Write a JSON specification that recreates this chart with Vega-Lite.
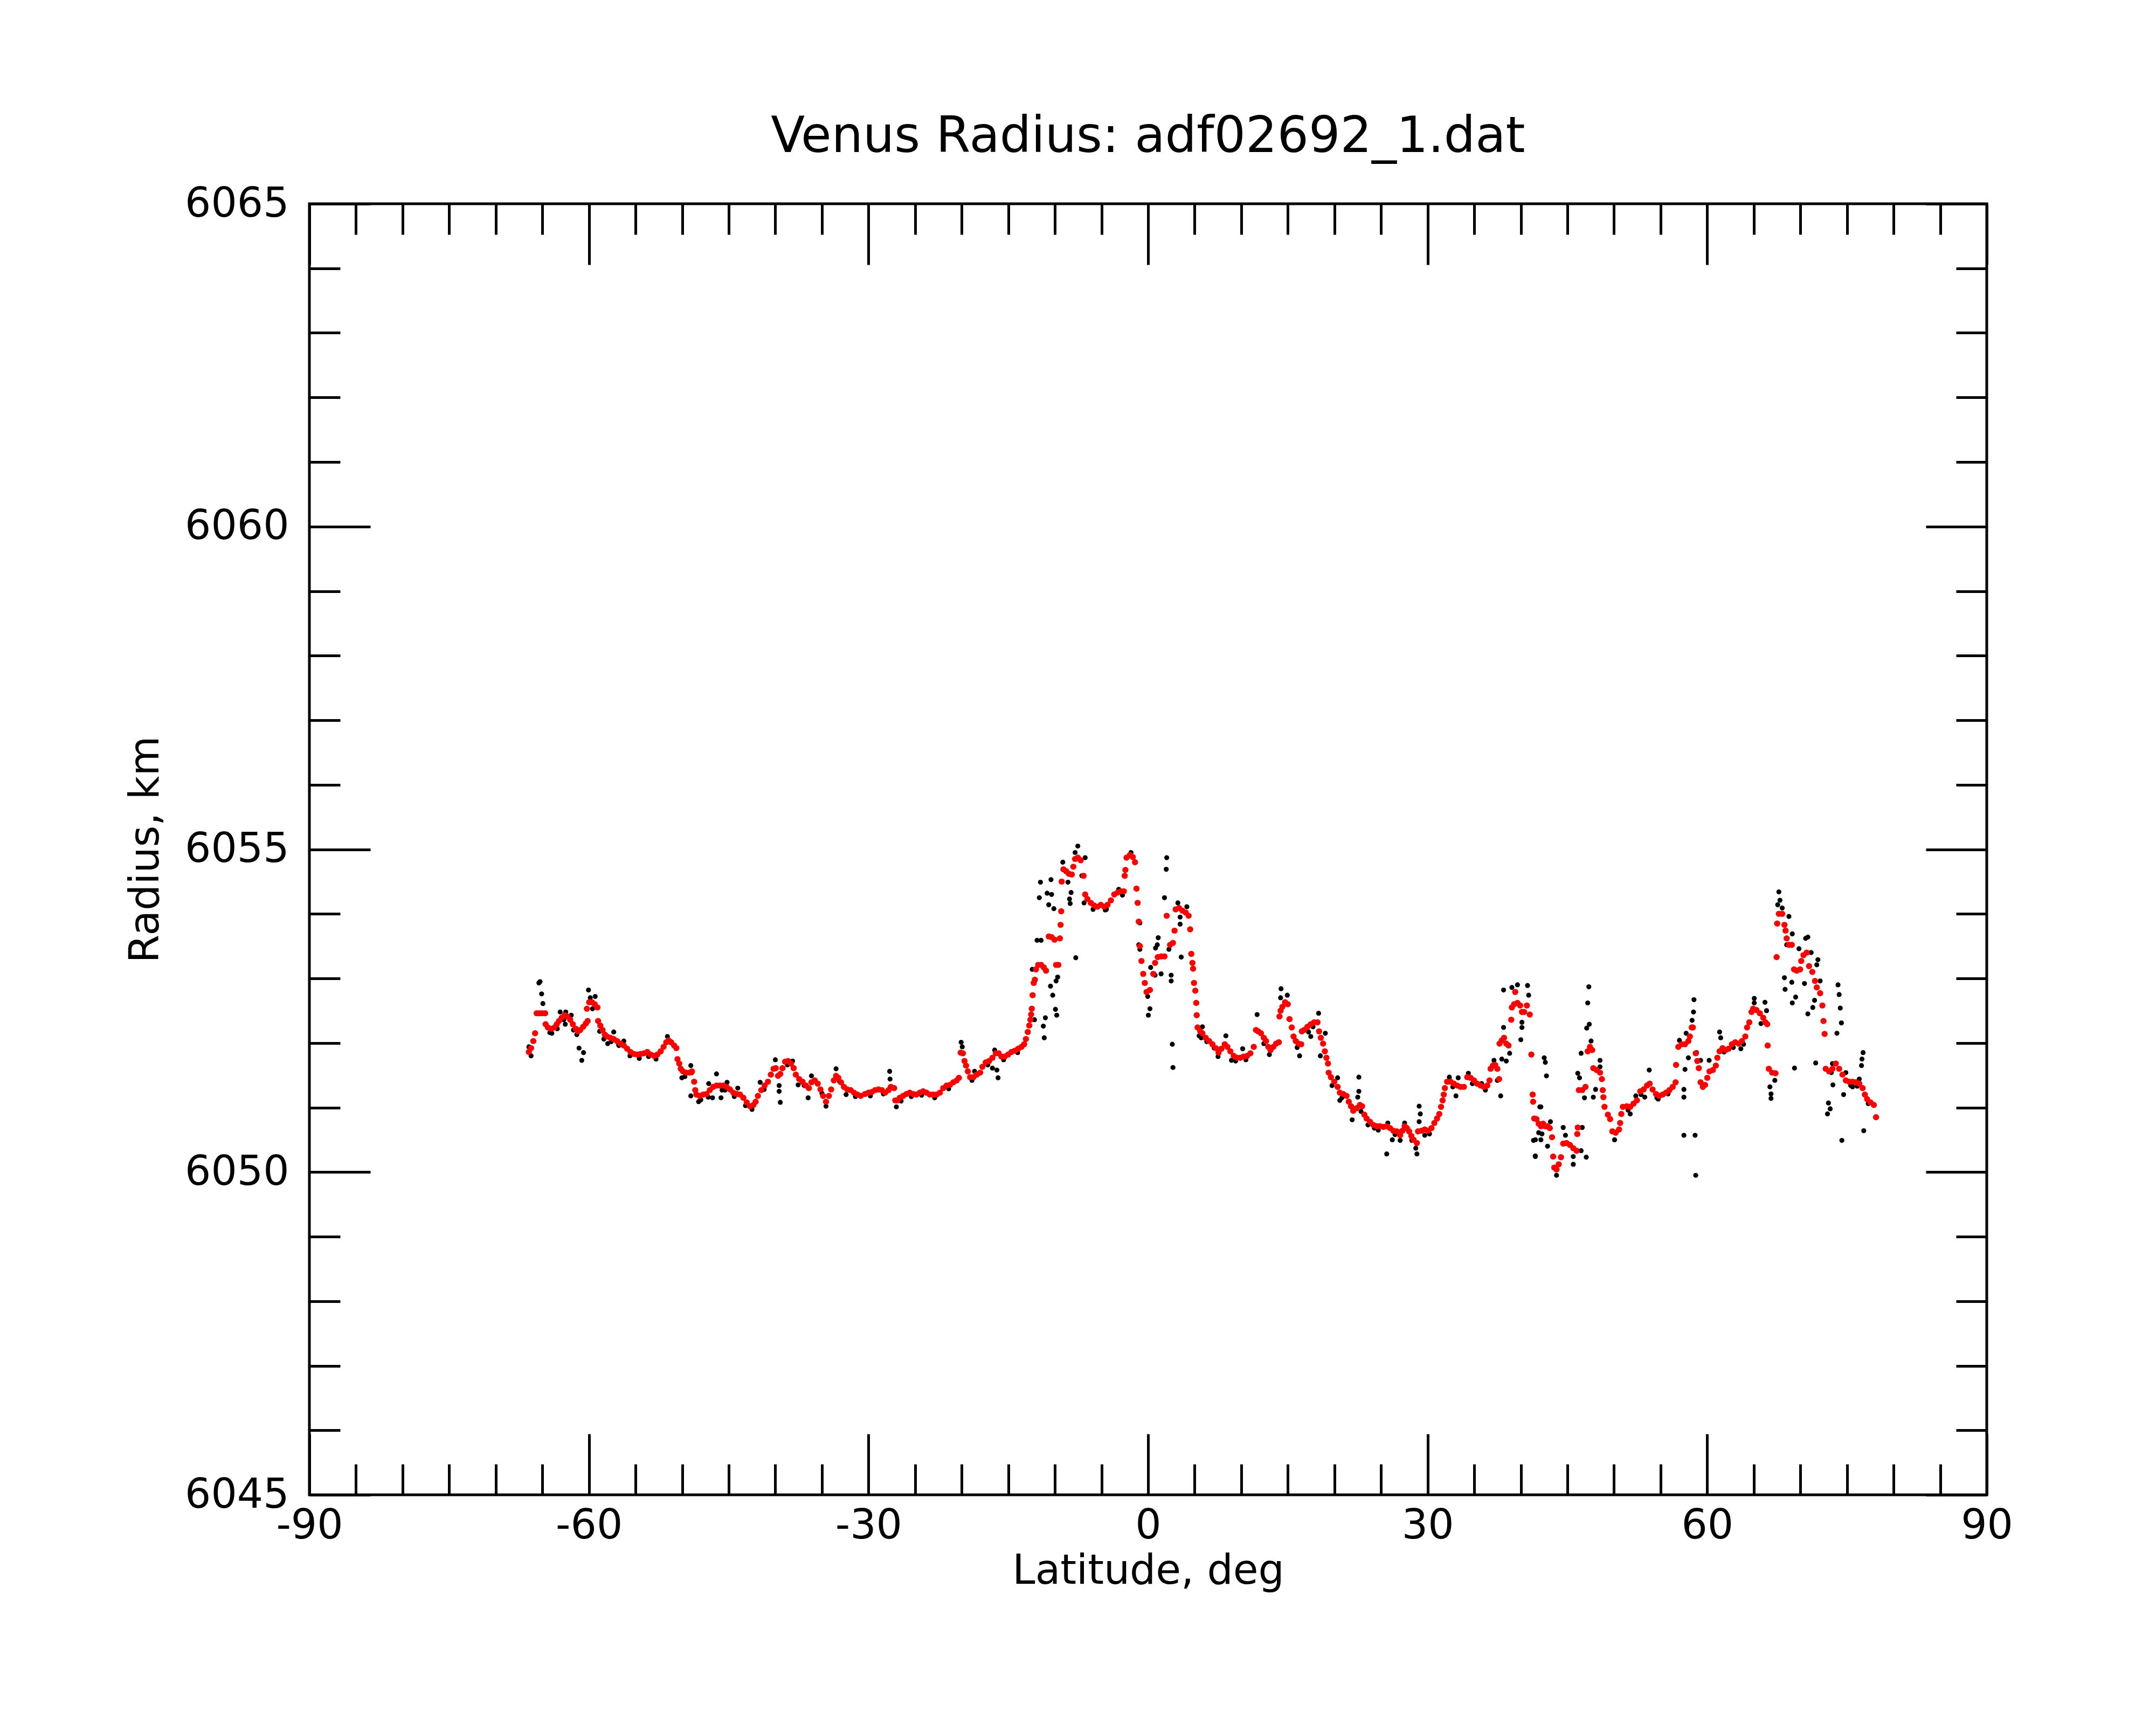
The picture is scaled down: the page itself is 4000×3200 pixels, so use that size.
{
  "$schema": "https://vega.github.io/schema/vega-lite/v6.json",
  "title": {
    "text": "Venus Radius: adf02692_1.dat",
    "font": "DejaVu Sans",
    "fontSize": 92,
    "fontWeight": "normal",
    "color": "black",
    "anchor": "middle",
    "baseline": "alphabetic",
    "offset": -34
  },
  "width": 3112,
  "height": 2395,
  "autosize": {"type": "none"},
  "padding": {"left": 574, "top": 378, "right": 314, "bottom": 427},
  "background": "white",
  "config": {
    "view": {"stroke": "black", "strokeWidth": 5},
    "axis": {
      "domain": false,
      "grid": false,
      "tickColor": "black",
      "tickWidth": 5,
      "labelFont": "DejaVu Sans",
      "labelFontSize": 76,
      "labelColor": "black",
      "labelLimit": 0,
      "titleFont": "DejaVu Sans",
      "titleFontSize": 76,
      "titleFontWeight": "normal",
      "titleColor": "black",
      "labelOverlap": false,
      "labelBound": false,
      "labelFlush": false
    }
  },
  "datasets": {
    "raw": [
      {"lat": -66.45, "radius": 6051.94}, {"lat": -66.21, "radius": 6051.80}, {"lat": -65.37, "radius": 6052.93},
      {"lat": -65.25, "radius": 6052.95}, {"lat": -65.08, "radius": 6052.76}, {"lat": -64.94, "radius": 6052.61},
      {"lat": -63.98, "radius": 6052.15}, {"lat": -63.09, "radius": 6052.48}, {"lat": -62.49, "radius": 6052.48},
      {"lat": -62.54, "radius": 6052.29}, {"lat": -61.90, "radius": 6052.43}, {"lat": -61.66, "radius": 6052.20},
      {"lat": -61.30, "radius": 6052.13}, {"lat": -61.06, "radius": 6051.92}, {"lat": -60.58, "radius": 6051.85},
      {"lat": -60.77, "radius": 6051.73}, {"lat": -60.05, "radius": 6052.82}, {"lat": -59.86, "radius": 6052.70},
      {"lat": -59.33, "radius": 6052.72}, {"lat": -59.62, "radius": 6052.53}, {"lat": -58.85, "radius": 6052.18},
      {"lat": -57.99, "radius": 6051.99}, {"lat": -57.34, "radius": 6052.17}, {"lat": -56.79, "radius": 6051.96},
      {"lat": -56.26, "radius": 6052.03}, {"lat": -51.58, "radius": 6052.10}, {"lat": -50.03, "radius": 6051.46},
      {"lat": -49.07, "radius": 6051.65}, {"lat": -48.95, "radius": 6051.54}, {"lat": -49.07, "radius": 6051.18},
      {"lat": -48.23, "radius": 6051.09}, {"lat": -47.15, "radius": 6051.37}, {"lat": -46.74, "radius": 6051.15},
      {"lat": -46.31, "radius": 6051.52}, {"lat": -45.83, "radius": 6051.15}, {"lat": -45.71, "radius": 6051.27},
      {"lat": -45.18, "radius": 6051.39}, {"lat": -44.03, "radius": 6051.30}, {"lat": -41.63, "radius": 6051.39},
      {"lat": -40.00, "radius": 6051.74}, {"lat": -39.59, "radius": 6051.34}, {"lat": -39.59, "radius": 6051.25},
      {"lat": -39.47, "radius": 6051.08}, {"lat": -38.15, "radius": 6051.72}, {"lat": -37.55, "radius": 6051.35},
      {"lat": -36.48, "radius": 6051.15}, {"lat": -36.12, "radius": 6051.49}, {"lat": -34.56, "radius": 6051.02},
      {"lat": -33.48, "radius": 6051.60}, {"lat": -32.40, "radius": 6051.20},
      {"lat": -27.73, "radius": 6051.56}, {"lat": -27.69, "radius": 6051.44}, {"lat": -27.01, "radius": 6051.01},
      {"lat": -20.06, "radius": 6052.01}, {"lat": -19.94, "radius": 6051.94}, {"lat": -18.62, "radius": 6051.56},
      {"lat": -16.70, "radius": 6051.61}, {"lat": -16.22, "radius": 6051.58}, {"lat": -16.10, "radius": 6051.46},
      {"lat": -16.46, "radius": 6051.89}, {"lat": -12.43, "radius": 6053.14}, {"lat": -12.19, "radius": 6052.36},
      {"lat": -11.55, "radius": 6054.49}, {"lat": -11.67, "radius": 6054.25}, {"lat": -10.42, "radius": 6054.53},
      {"lat": -10.83, "radius": 6054.32}, {"lat": -10.35, "radius": 6054.30}, {"lat": -10.66, "radius": 6054.14},
      {"lat": -10.11, "radius": 6054.08}, {"lat": -11.91, "radius": 6053.59}, {"lat": -11.48, "radius": 6053.59},
      {"lat": -9.70, "radius": 6053.02}, {"lat": -9.87, "radius": 6052.96}, {"lat": -10.47, "radius": 6052.88},
      {"lat": -10.23, "radius": 6052.74}, {"lat": -9.94, "radius": 6052.52}, {"lat": -9.80, "radius": 6052.43},
      {"lat": -11.02, "radius": 6052.39}, {"lat": -11.24, "radius": 6052.26}, {"lat": -11.14, "radius": 6052.08},
      {"lat": -9.15, "radius": 6054.80}, {"lat": -8.60, "radius": 6054.49}, {"lat": -8.26, "radius": 6054.33},
      {"lat": -8.43, "radius": 6054.23}, {"lat": -8.36, "radius": 6054.16}, {"lat": -7.76, "radius": 6053.32},
      {"lat": -7.54, "radius": 6055.05}, {"lat": -7.83, "radius": 6054.95}, {"lat": -6.75, "radius": 6054.87},
      {"lat": -7.11, "radius": 6054.59}, {"lat": -6.87, "radius": 6054.17}, {"lat": -4.47, "radius": 6054.07},
      {"lat": -3.15, "radius": 6054.38}, {"lat": -2.75, "radius": 6054.29}, {"lat": -1.83, "radius": 6054.95},
      {"lat": -0.88, "radius": 6053.86}, {"lat": -1.00, "radius": 6053.52}, {"lat": -0.88, "radius": 6053.45},
      {"lat": -0.04, "radius": 6052.72}, {"lat": 0.20, "radius": 6052.53}, {"lat": 0.03, "radius": 6052.43},
      {"lat": 0.28, "radius": 6053.17}, {"lat": 0.75, "radius": 6053.05}, {"lat": 1.40, "radius": 6053.07},
      {"lat": 2.48, "radius": 6053.05}, {"lat": 2.48, "radius": 6052.96}, {"lat": 2.00, "radius": 6054.87},
      {"lat": 1.95, "radius": 6054.69}, {"lat": 1.76, "radius": 6054.25}, {"lat": 1.09, "radius": 6053.63},
      {"lat": 0.99, "radius": 6053.52}, {"lat": 0.80, "radius": 6053.47}, {"lat": 2.24, "radius": 6053.45},
      {"lat": 3.44, "radius": 6053.84}, {"lat": 3.44, "radius": 6053.95}, {"lat": 3.56, "radius": 6053.33},
      {"lat": 2.60, "radius": 6051.98}, {"lat": 2.67, "radius": 6051.62}, {"lat": 3.20, "radius": 6054.17},
      {"lat": 4.16, "radius": 6054.11}, {"lat": 5.48, "radius": 6052.11},
      {"lat": 5.83, "radius": 6052.25}, {"lat": 5.71, "radius": 6052.08}, {"lat": 7.51, "radius": 6051.79},
      {"lat": 8.35, "radius": 6052.11}, {"lat": 8.95, "radius": 6051.73}, {"lat": 10.15, "radius": 6051.91},
      {"lat": 11.70, "radius": 6052.44}, {"lat": 12.42, "radius": 6051.99}, {"lat": 13.02, "radius": 6051.82},
      {"lat": 14.27, "radius": 6052.84}, {"lat": 14.22, "radius": 6052.70}, {"lat": 14.94, "radius": 6052.74},
      {"lat": 16.26, "radius": 6051.80}, {"lat": 17.22, "radius": 6052.17}, {"lat": 17.46, "radius": 6052.10},
      {"lat": 18.30, "radius": 6052.46}, {"lat": 19.02, "radius": 6052.15}, {"lat": 18.49, "radius": 6051.80},
      {"lat": 19.74, "radius": 6051.34}, {"lat": 20.34, "radius": 6051.46}, {"lat": 20.58, "radius": 6051.11},
      {"lat": 21.90, "radius": 6050.81}, {"lat": 22.62, "radius": 6051.47}, {"lat": 22.62, "radius": 6051.25},
      {"lat": 22.50, "radius": 6051.16}, {"lat": 22.85, "radius": 6050.94}, {"lat": 24.29, "radius": 6050.68},
      {"lat": 25.73, "radius": 6050.76}, {"lat": 25.61, "radius": 6050.28}, {"lat": 26.21, "radius": 6050.50},
      {"lat": 27.05, "radius": 6050.49}, {"lat": 27.53, "radius": 6050.76}, {"lat": 28.85, "radius": 6050.28},
      {"lat": 28.73, "radius": 6050.37}, {"lat": 29.09, "radius": 6051.02}, {"lat": 29.21, "radius": 6050.90},
      {"lat": 29.09, "radius": 6050.78}, {"lat": 29.69, "radius": 6050.57}, {"lat": 32.33, "radius": 6051.47},
      {"lat": 33.04, "radius": 6051.18}, {"lat": 33.28, "radius": 6051.46}, {"lat": 34.37, "radius": 6051.53},
      {"lat": 35.80, "radius": 6051.37}, {"lat": 37.12, "radius": 6051.73}, {"lat": 37.84, "radius": 6051.18},
      {"lat": 37.48, "radius": 6051.42}, {"lat": 38.15, "radius": 6052.24}, {"lat": 37.96, "radius": 6051.75},
      {"lat": 38.44, "radius": 6051.72}, {"lat": 38.80, "radius": 6051.84}, {"lat": 38.15, "radius": 6052.82},
      {"lat": 39.04, "radius": 6052.86}, {"lat": 39.64, "radius": 6052.90}, {"lat": 40.72, "radius": 6052.89},
      {"lat": 40.84, "radius": 6052.74}, {"lat": 40.12, "radius": 6052.32}, {"lat": 40.00, "radius": 6052.05},
      {"lat": 40.12, "radius": 6052.24}, {"lat": 41.56, "radius": 6050.50}, {"lat": 41.56, "radius": 6050.24},
      {"lat": 41.92, "radius": 6050.61}, {"lat": 42.04, "radius": 6051.01},
      {"lat": 41.36, "radius": 6050.49}, {"lat": 41.55, "radius": 6050.25}, {"lat": 42.15, "radius": 6051.01},
      {"lat": 42.51, "radius": 6051.77}, {"lat": 42.63, "radius": 6051.70}, {"lat": 42.75, "radius": 6051.49},
      {"lat": 43.18, "radius": 6050.78}, {"lat": 42.87, "radius": 6050.40}, {"lat": 42.15, "radius": 6050.50},
      {"lat": 42.27, "radius": 6050.59}, {"lat": 43.83, "radius": 6049.95}, {"lat": 44.55, "radius": 6050.69},
      {"lat": 44.79, "radius": 6050.57}, {"lat": 45.63, "radius": 6050.24}, {"lat": 45.63, "radius": 6050.12},
      {"lat": 46.47, "radius": 6050.33}, {"lat": 46.59, "radius": 6050.69}, {"lat": 47.02, "radius": 6050.23},
      {"lat": 47.30, "radius": 6052.87}, {"lat": 47.18, "radius": 6052.62}, {"lat": 47.35, "radius": 6052.29},
      {"lat": 47.07, "radius": 6052.23}, {"lat": 47.54, "radius": 6052.03}, {"lat": 46.47, "radius": 6051.84},
      {"lat": 46.11, "radius": 6051.53}, {"lat": 46.30, "radius": 6051.46}, {"lat": 46.83, "radius": 6051.15},
      {"lat": 47.78, "radius": 6051.16}, {"lat": 48.02, "radius": 6051.28}, {"lat": 48.50, "radius": 6051.73},
      {"lat": 48.50, "radius": 6051.63}, {"lat": 50.06, "radius": 6050.50}, {"lat": 51.74, "radius": 6050.90},
      {"lat": 52.34, "radius": 6051.18}, {"lat": 53.78, "radius": 6051.58}, {"lat": 53.30, "radius": 6051.16},
      {"lat": 54.74, "radius": 6051.13}, {"lat": 57.50, "radius": 6051.28}, {"lat": 57.50, "radius": 6051.16},
      {"lat": 57.74, "radius": 6052.15}, {"lat": 57.02, "radius": 6052.04}, {"lat": 57.62, "radius": 6051.59},
      {"lat": 57.98, "radius": 6051.77}, {"lat": 58.58, "radius": 6052.67}, {"lat": 58.53, "radius": 6052.48},
      {"lat": 58.38, "radius": 6052.35}, {"lat": 58.86, "radius": 6051.85}, {"lat": 59.29, "radius": 6051.73},
      {"lat": 57.50, "radius": 6050.57}, {"lat": 58.70, "radius": 6050.57}, {"lat": 58.77, "radius": 6049.95},
      {"lat": 60.21, "radius": 6051.73}, {"lat": 61.33, "radius": 6052.17}, {"lat": 61.45, "radius": 6052.08},
      {"lat": 63.61, "radius": 6051.91}, {"lat": 65.05, "radius": 6052.69}, {"lat": 65.05, "radius": 6052.62},
      {"lat": 66.20, "radius": 6052.63}, {"lat": 66.37, "radius": 6052.50}, {"lat": 65.77, "radius": 6052.30},
      {"lat": 66.73, "radius": 6051.32}, {"lat": 66.85, "radius": 6051.21}, {"lat": 66.85, "radius": 6051.14},
      {"lat": 67.26, "radius": 6051.42}, {"lat": 67.69, "radius": 6054.34}, {"lat": 67.81, "radius": 6054.21},
      {"lat": 67.57, "radius": 6054.14}, {"lat": 68.05, "radius": 6054.09}, {"lat": 68.77, "radius": 6053.96},
      {"lat": 67.45, "radius": 6053.85}, {"lat": 69.13, "radius": 6053.69}, {"lat": 68.53, "radius": 6053.52},
      {"lat": 70.80, "radius": 6053.64}, {"lat": 70.56, "radius": 6053.62}, {"lat": 69.85, "radius": 6053.46},
      {"lat": 71.16, "radius": 6053.40}, {"lat": 71.88, "radius": 6053.29}, {"lat": 71.76, "radius": 6053.21},
      {"lat": 68.29, "radius": 6053.01}, {"lat": 69.08, "radius": 6052.94}, {"lat": 68.36, "radius": 6052.83},
      {"lat": 70.44, "radius": 6052.92}, {"lat": 69.49, "radius": 6052.71}, {"lat": 69.13, "radius": 6052.62},
      {"lat": 72.12, "radius": 6052.96}, {"lat": 71.52, "radius": 6052.66}, {"lat": 71.33, "radius": 6052.55},
      {"lat": 70.80, "radius": 6052.45}, {"lat": 74.04, "radius": 6052.90}, {"lat": 74.16, "radius": 6052.75},
      {"lat": 74.28, "radius": 6052.54}, {"lat": 74.40, "radius": 6052.31}, {"lat": 73.92, "radius": 6052.15},
      {"lat": 69.37, "radius": 6051.61}, {"lat": 71.64, "radius": 6051.69}, {"lat": 73.44, "radius": 6051.68},
      {"lat": 73.32, "radius": 6051.54}, {"lat": 73.49, "radius": 6051.35}, {"lat": 73.01, "radius": 6051.07},
      {"lat": 73.20, "radius": 6050.98}, {"lat": 72.91, "radius": 6050.90}, {"lat": 74.45, "radius": 6050.49},
      {"lat": 74.64, "radius": 6051.20}, {"lat": 74.88, "radius": 6051.54}, {"lat": 75.60, "radius": 6051.32},
      {"lat": 76.32, "radius": 6051.44}, {"lat": 76.56, "radius": 6051.65}, {"lat": 76.61, "radius": 6051.75},
      {"lat": 76.73, "radius": 6051.85}, {"lat": 76.80, "radius": 6050.64}, {"lat": 77.28, "radius": 6051.06},
      {"lat": -64.20, "radius": 6052.16}, {"lat": -63.40, "radius": 6052.22}, {"lat": -62.70, "radius": 6052.36},
      {"lat": -58.40, "radius": 6052.06}, {"lat": -57.60, "radius": 6052.02}, {"lat": -56.80, "radius": 6051.97},
      {"lat": -55.60, "radius": 6051.80}, {"lat": -54.60, "radius": 6051.76}, {"lat": -53.60, "radius": 6051.79},
      {"lat": -52.80, "radius": 6051.75}, {"lat": -49.70, "radius": 6051.48}, {"lat": -48.00, "radius": 6051.12},
      {"lat": -47.20, "radius": 6051.16}, {"lat": -45.40, "radius": 6051.27}, {"lat": -44.40, "radius": 6051.17},
      {"lat": -43.20, "radius": 6051.03}, {"lat": -42.50, "radius": 6050.97}, {"lat": -41.20, "radius": 6051.28},
      {"lat": -38.70, "radius": 6051.66}, {"lat": -36.90, "radius": 6051.34}, {"lat": -35.00, "radius": 6051.22},
      {"lat": -33.10, "radius": 6051.40}, {"lat": -31.40, "radius": 6051.17}, {"lat": -29.80, "radius": 6051.18},
      {"lat": -28.40, "radius": 6051.21}, {"lat": -26.50, "radius": 6051.10}, {"lat": -25.40, "radius": 6051.17},
      {"lat": -24.30, "radius": 6051.19}, {"lat": -22.90, "radius": 6051.15}, {"lat": -21.40, "radius": 6051.29},
      {"lat": -18.90, "radius": 6051.42}, {"lat": -17.20, "radius": 6051.66}, {"lat": -15.50, "radius": 6051.74},
      {"lat": -14.00, "radius": 6051.85}, {"lat": -5.90, "radius": 6054.07}, {"lat": -4.60, "radius": 6054.06},
      {"lat": 6.30, "radius": 6052.02}, {"lat": 7.10, "radius": 6051.92}, {"lat": 9.40, "radius": 6051.72},
      {"lat": 10.50, "radius": 6051.74}, {"lat": 16.00, "radius": 6051.93}, {"lat": 17.70, "radius": 6052.25},
      {"lat": 20.80, "radius": 6051.15}, {"lat": 23.60, "radius": 6050.73}, {"lat": 24.70, "radius": 6050.65},
      {"lat": 26.50, "radius": 6050.58}, {"lat": 28.30, "radius": 6050.49}, {"lat": 30.20, "radius": 6050.59},
      {"lat": 32.70, "radius": 6051.32}, {"lat": 34.80, "radius": 6051.37}, {"lat": 36.20, "radius": 6051.27},
      {"lat": 51.50, "radius": 6050.96}, {"lat": 52.90, "radius": 6051.20}, {"lat": 54.60, "radius": 6051.15},
      {"lat": 55.80, "radius": 6051.21}, {"lat": 61.80, "radius": 6051.86}, {"lat": 62.80, "radius": 6051.93},
      {"lat": 63.90, "radius": 6051.98}, {"lat": 75.40, "radius": 6051.34}, {"lat": 76.10, "radius": 6051.33}
    ],
    "smooth": [
      {"lat": -66.45, "radius": 6051.86}, {"lat": -66.21, "radius": 6051.92}, {"lat": -65.97, "radius": 6052.03},
      {"lat": -65.78, "radius": 6052.15}, {"lat": -65.61, "radius": 6052.46}, {"lat": -65.32, "radius": 6052.46},
      {"lat": -65.01, "radius": 6052.46}, {"lat": -64.70, "radius": 6052.46}, {"lat": -64.65, "radius": 6052.29},
      {"lat": -64.41, "radius": 6052.24}, {"lat": -64.05, "radius": 6052.22}, {"lat": -63.69, "radius": 6052.24},
      {"lat": -63.45, "radius": 6052.29}, {"lat": -63.21, "radius": 6052.34}, {"lat": -62.93, "radius": 6052.39},
      {"lat": -62.61, "radius": 6052.43}, {"lat": -62.30, "radius": 6052.41}, {"lat": -62.01, "radius": 6052.36},
      {"lat": -61.73, "radius": 6052.29}, {"lat": -61.42, "radius": 6052.22}, {"lat": -61.18, "radius": 6052.18},
      {"lat": -60.94, "radius": 6052.20}, {"lat": -60.62, "radius": 6052.25}, {"lat": -60.34, "radius": 6052.30},
      {"lat": -60.14, "radius": 6052.34}, {"lat": -60.22, "radius": 6052.53}, {"lat": -59.98, "radius": 6052.63},
      {"lat": -59.67, "radius": 6052.63}, {"lat": -59.38, "radius": 6052.60}, {"lat": -59.09, "radius": 6052.55},
      {"lat": -59.02, "radius": 6052.34}, {"lat": -58.78, "radius": 6052.27}, {"lat": -58.54, "radius": 6052.20},
      {"lat": -58.30, "radius": 6052.13}, {"lat": -58.06, "radius": 6052.10}, {"lat": -57.70, "radius": 6052.08},
      {"lat": -57.34, "radius": 6052.06}, {"lat": -56.98, "radius": 6052.03}, {"lat": -56.62, "radius": 6051.99},
      {"lat": -56.26, "radius": 6051.96}, {"lat": -55.90, "radius": 6051.91}, {"lat": -55.54, "radius": 6051.86},
      {"lat": -55.18, "radius": 6051.83}, {"lat": -54.82, "radius": 6051.82}, {"lat": -54.46, "radius": 6051.83},
      {"lat": -54.10, "radius": 6051.84}, {"lat": -53.74, "radius": 6051.86}, {"lat": -53.38, "radius": 6051.82},
      {"lat": -53.02, "radius": 6051.80}, {"lat": -52.66, "radius": 6051.82}, {"lat": -52.30, "radius": 6051.87},
      {"lat": -51.99, "radius": 6051.94}, {"lat": -51.70, "radius": 6052.01}, {"lat": -51.46, "radius": 6052.04},
      {"lat": -51.18, "radius": 6052.01}, {"lat": -50.86, "radius": 6051.96}, {"lat": -50.62, "radius": 6051.92},
      {"lat": -50.50, "radius": 6051.75}, {"lat": -50.31, "radius": 6051.68}, {"lat": -50.15, "radius": 6051.60},
      {"lat": -49.91, "radius": 6051.56}, {"lat": -49.55, "radius": 6051.54}, {"lat": -49.19, "radius": 6051.54},
      {"lat": -48.95, "radius": 6051.56}, {"lat": -48.71, "radius": 6051.40}, {"lat": -48.59, "radius": 6051.27},
      {"lat": -48.47, "radius": 6051.20}, {"lat": -48.11, "radius": 6051.18}, {"lat": -47.75, "radius": 6051.20},
      {"lat": -47.39, "radius": 6051.21}, {"lat": -47.03, "radius": 6051.27}, {"lat": -46.67, "radius": 6051.32},
      {"lat": -46.31, "radius": 6051.34}, {"lat": -45.95, "radius": 6051.34}, {"lat": -45.59, "radius": 6051.34},
      {"lat": -45.23, "radius": 6051.32}, {"lat": -44.87, "radius": 6051.28}, {"lat": -44.51, "radius": 6051.23},
      {"lat": -44.15, "radius": 6051.21}, {"lat": -43.79, "radius": 6051.20}, {"lat": -43.43, "radius": 6051.15},
      {"lat": -43.07, "radius": 6051.08}, {"lat": -42.71, "radius": 6051.02}, {"lat": -42.35, "radius": 6051.04},
      {"lat": -42.11, "radius": 6051.09}, {"lat": -41.87, "radius": 6051.18}, {"lat": -41.51, "radius": 6051.27},
      {"lat": -41.15, "radius": 6051.34}, {"lat": -40.79, "radius": 6051.40}, {"lat": -40.48, "radius": 6051.51},
      {"lat": -40.19, "radius": 6051.60}, {"lat": -39.95, "radius": 6051.61}, {"lat": -39.71, "radius": 6051.49},
      {"lat": -39.47, "radius": 6051.52}, {"lat": -39.23, "radius": 6051.61}, {"lat": -38.95, "radius": 6051.71},
      {"lat": -38.63, "radius": 6051.72}, {"lat": -38.32, "radius": 6051.68}, {"lat": -38.03, "radius": 6051.61},
      {"lat": -37.80, "radius": 6051.51}, {"lat": -37.44, "radius": 6051.44}, {"lat": -37.08, "radius": 6051.40},
      {"lat": -36.72, "radius": 6051.34}, {"lat": -36.40, "radius": 6051.30}, {"lat": -36.12, "radius": 6051.39},
      {"lat": -35.76, "radius": 6051.42}, {"lat": -35.45, "radius": 6051.37}, {"lat": -35.16, "radius": 6051.28},
      {"lat": -34.87, "radius": 6051.18}, {"lat": -34.56, "radius": 6051.09}, {"lat": -34.25, "radius": 6051.18},
      {"lat": -34.01, "radius": 6051.28}, {"lat": -33.72, "radius": 6051.42}, {"lat": -33.48, "radius": 6051.49},
      {"lat": -33.24, "radius": 6051.46}, {"lat": -32.95, "radius": 6051.39}, {"lat": -32.64, "radius": 6051.32},
      {"lat": -32.28, "radius": 6051.28}, {"lat": -31.92, "radius": 6051.27}, {"lat": -31.56, "radius": 6051.23},
      {"lat": -31.20, "radius": 6051.20}, {"lat": -30.84, "radius": 6051.18}, {"lat": -30.37, "radius": 6051.21},
      {"lat": -30.01, "radius": 6051.23}, {"lat": -29.65, "radius": 6051.24}, {"lat": -29.29, "radius": 6051.27},
      {"lat": -28.93, "radius": 6051.28}, {"lat": -28.57, "radius": 6051.27}, {"lat": -28.21, "radius": 6051.23},
      {"lat": -27.85, "radius": 6051.27}, {"lat": -27.61, "radius": 6051.32}, {"lat": -27.25, "radius": 6051.30},
      {"lat": -27.13, "radius": 6051.11}, {"lat": -26.89, "radius": 6051.11}, {"lat": -26.65, "radius": 6051.15},
      {"lat": -26.29, "radius": 6051.18}, {"lat": -25.93, "radius": 6051.21}, {"lat": -25.58, "radius": 6051.23},
      {"lat": -25.22, "radius": 6051.21}, {"lat": -24.86, "radius": 6051.20}, {"lat": -24.50, "radius": 6051.23},
      {"lat": -24.14, "radius": 6051.25}, {"lat": -23.78, "radius": 6051.23}, {"lat": -23.42, "radius": 6051.20},
      {"lat": -23.06, "radius": 6051.20}, {"lat": -22.70, "radius": 6051.20}, {"lat": -22.34, "radius": 6051.23},
      {"lat": -21.98, "radius": 6051.30}, {"lat": -21.62, "radius": 6051.34}, {"lat": -21.26, "radius": 6051.35},
      {"lat": -20.90, "radius": 6051.39}, {"lat": -20.54, "radius": 6051.42}, {"lat": -20.30, "radius": 6051.46},
      {"lat": -20.11, "radius": 6051.85}, {"lat": -19.87, "radius": 6051.84}, {"lat": -19.70, "radius": 6051.72},
      {"lat": -19.53, "radius": 6051.65}, {"lat": -19.34, "radius": 6051.56}, {"lat": -19.10, "radius": 6051.47},
      {"lat": -18.74, "radius": 6051.47}, {"lat": -18.38, "radius": 6051.51}, {"lat": -18.02, "radius": 6051.54},
      {"lat": -17.78, "radius": 6051.63}, {"lat": -17.42, "radius": 6051.70}, {"lat": -17.06, "radius": 6051.72},
      {"lat": -16.70, "radius": 6051.77}, {"lat": -16.34, "radius": 6051.84}, {"lat": -16.03, "radius": 6051.84},
      {"lat": -15.74, "radius": 6051.79}, {"lat": -15.38, "radius": 6051.79}, {"lat": -15.02, "radius": 6051.82},
      {"lat": -14.66, "radius": 6051.86}, {"lat": -14.30, "radius": 6051.88}, {"lat": -13.94, "radius": 6051.91},
      {"lat": -13.58, "radius": 6051.94}, {"lat": -13.30, "radius": 6051.98}, {"lat": -13.11, "radius": 6052.06},
      {"lat": -12.91, "radius": 6052.17}, {"lat": -12.75, "radius": 6052.27}, {"lat": -12.63, "radius": 6052.36},
      {"lat": -12.55, "radius": 6052.44}, {"lat": -12.48, "radius": 6052.53}, {"lat": -12.39, "radius": 6052.74},
      {"lat": -12.27, "radius": 6052.93}, {"lat": -12.15, "radius": 6052.98}, {"lat": -12.03, "radius": 6053.14},
      {"lat": -11.79, "radius": 6053.21}, {"lat": -11.48, "radius": 6053.21}, {"lat": -11.19, "radius": 6053.17},
      {"lat": -10.95, "radius": 6053.12}, {"lat": -10.66, "radius": 6053.65}, {"lat": -10.35, "radius": 6053.64},
      {"lat": -10.04, "radius": 6053.60}, {"lat": -9.87, "radius": 6053.21}, {"lat": -9.63, "radius": 6053.21},
      {"lat": -9.46, "radius": 6053.62}, {"lat": -9.39, "radius": 6053.83}, {"lat": -9.32, "radius": 6054.04},
      {"lat": -9.27, "radius": 6054.50}, {"lat": -9.08, "radius": 6054.69}, {"lat": -8.79, "radius": 6054.66},
      {"lat": -8.50, "radius": 6054.62}, {"lat": -8.19, "radius": 6054.61}, {"lat": -8.02, "radius": 6054.73},
      {"lat": -7.83, "radius": 6054.85}, {"lat": -7.54, "radius": 6054.87}, {"lat": -7.23, "radius": 6054.83},
      {"lat": -6.92, "radius": 6054.59}, {"lat": -6.75, "radius": 6054.30}, {"lat": -6.51, "radius": 6054.23},
      {"lat": -6.15, "radius": 6054.17}, {"lat": -5.79, "radius": 6054.13}, {"lat": -5.43, "radius": 6054.11},
      {"lat": -5.07, "radius": 6054.14}, {"lat": -4.71, "radius": 6054.11}, {"lat": -4.35, "radius": 6054.14},
      {"lat": -3.99, "radius": 6054.21}, {"lat": -3.63, "radius": 6054.30}, {"lat": -3.27, "radius": 6054.33},
      {"lat": -2.91, "radius": 6054.35}, {"lat": -2.60, "radius": 6054.35}, {"lat": -2.51, "radius": 6054.59},
      {"lat": -2.43, "radius": 6054.68}, {"lat": -2.31, "radius": 6054.87}, {"lat": -1.95, "radius": 6054.91},
      {"lat": -1.64, "radius": 6054.88}, {"lat": -1.40, "radius": 6054.80}, {"lat": -1.24, "radius": 6054.39},
      {"lat": -1.12, "radius": 6054.17}, {"lat": -1.00, "radius": 6053.88}, {"lat": -0.88, "radius": 6053.50},
      {"lat": -0.71, "radius": 6053.27}, {"lat": -0.52, "radius": 6053.07}, {"lat": -0.35, "radius": 6052.93},
      {"lat": -0.16, "radius": 6052.79}, {"lat": 0.20, "radius": 6052.82}, {"lat": 0.56, "radius": 6053.07},
      {"lat": 0.75, "radius": 6053.24}, {"lat": 1.04, "radius": 6053.33}, {"lat": 1.40, "radius": 6053.34},
      {"lat": 1.76, "radius": 6053.34}, {"lat": 2.00, "radius": 6053.97}, {"lat": 2.36, "radius": 6053.52},
      {"lat": 2.67, "radius": 6053.55}, {"lat": 2.84, "radius": 6053.74}, {"lat": 2.96, "radius": 6054.07},
      {"lat": 3.32, "radius": 6054.09}, {"lat": 3.68, "radius": 6054.05}, {"lat": 4.04, "radius": 6054.02},
      {"lat": 4.35, "radius": 6053.97}, {"lat": 4.52, "radius": 6053.76}, {"lat": 4.64, "radius": 6053.38},
      {"lat": 4.76, "radius": 6053.24}, {"lat": 4.83, "radius": 6053.15}, {"lat": 4.93, "radius": 6052.93},
      {"lat": 5.07, "radius": 6052.81}, {"lat": 5.17, "radius": 6052.62}, {"lat": 5.22, "radius": 6052.43},
      {"lat": 5.31, "radius": 6052.24}, {"lat": 5.60, "radius": 6052.18}, {"lat": 5.83, "radius": 6052.15},
      {"lat": 6.19, "radius": 6052.08}, {"lat": 6.55, "radius": 6052.03}, {"lat": 6.91, "radius": 6051.98},
      {"lat": 7.27, "radius": 6051.92}, {"lat": 7.56, "radius": 6051.85}, {"lat": 7.87, "radius": 6051.91},
      {"lat": 8.23, "radius": 6051.98}, {"lat": 8.51, "radius": 6051.94}, {"lat": 8.83, "radius": 6051.87},
      {"lat": 9.19, "radius": 6051.80}, {"lat": 9.55, "radius": 6051.77}, {"lat": 9.91, "radius": 6051.77},
      {"lat": 10.27, "radius": 6051.79}, {"lat": 10.63, "radius": 6051.80}, {"lat": 10.98, "radius": 6051.84},
      {"lat": 11.34, "radius": 6051.94}, {"lat": 11.58, "radius": 6052.20}, {"lat": 11.82, "radius": 6052.18},
      {"lat": 12.11, "radius": 6052.15}, {"lat": 12.42, "radius": 6052.08}, {"lat": 12.66, "radius": 6052.03},
      {"lat": 12.90, "radius": 6051.94}, {"lat": 13.14, "radius": 6051.89}, {"lat": 13.45, "radius": 6051.94},
      {"lat": 13.74, "radius": 6051.99}, {"lat": 14.03, "radius": 6052.01}, {"lat": 14.10, "radius": 6052.41},
      {"lat": 14.22, "radius": 6052.50}, {"lat": 14.41, "radius": 6052.56}, {"lat": 14.70, "radius": 6052.63},
      {"lat": 14.99, "radius": 6052.60}, {"lat": 15.18, "radius": 6052.37}, {"lat": 15.42, "radius": 6052.24},
      {"lat": 15.61, "radius": 6052.10}, {"lat": 15.85, "radius": 6052.03}, {"lat": 16.14, "radius": 6051.99},
      {"lat": 16.43, "radius": 6051.98}, {"lat": 16.50, "radius": 6052.18}, {"lat": 16.74, "radius": 6052.20},
      {"lat": 17.10, "radius": 6052.25}, {"lat": 17.46, "radius": 6052.29}, {"lat": 17.82, "radius": 6052.32},
      {"lat": 18.18, "radius": 6052.32}, {"lat": 18.35, "radius": 6052.18}, {"lat": 18.54, "radius": 6052.08},
      {"lat": 18.78, "radius": 6051.99}, {"lat": 18.97, "radius": 6051.87}, {"lat": 19.14, "radius": 6051.77},
      {"lat": 19.31, "radius": 6051.68}, {"lat": 19.38, "radius": 6051.54}, {"lat": 19.62, "radius": 6051.47},
      {"lat": 19.98, "radius": 6051.40}, {"lat": 20.34, "radius": 6051.32}, {"lat": 20.58, "radius": 6051.23},
      {"lat": 20.94, "radius": 6051.21}, {"lat": 21.30, "radius": 6051.18}, {"lat": 21.54, "radius": 6051.09},
      {"lat": 21.78, "radius": 6051.02}, {"lat": 22.02, "radius": 6050.95}, {"lat": 22.38, "radius": 6050.99},
      {"lat": 22.73, "radius": 6051.04}, {"lat": 22.97, "radius": 6051.02}, {"lat": 23.21, "radius": 6050.89},
      {"lat": 23.45, "radius": 6050.83}, {"lat": 23.81, "radius": 6050.78}, {"lat": 24.17, "radius": 6050.73},
      {"lat": 24.53, "radius": 6050.71}, {"lat": 24.89, "radius": 6050.71}, {"lat": 25.25, "radius": 6050.70},
      {"lat": 25.61, "radius": 6050.71}, {"lat": 25.97, "radius": 6050.68}, {"lat": 26.33, "radius": 6050.64},
      {"lat": 26.69, "radius": 6050.63}, {"lat": 27.05, "radius": 6050.57}, {"lat": 27.29, "radius": 6050.64},
      {"lat": 27.53, "radius": 6050.71}, {"lat": 27.77, "radius": 6050.68}, {"lat": 28.01, "radius": 6050.63},
      {"lat": 28.25, "radius": 6050.56}, {"lat": 28.49, "radius": 6050.50}, {"lat": 28.85, "radius": 6050.45},
      {"lat": 28.97, "radius": 6050.63}, {"lat": 29.33, "radius": 6050.64}, {"lat": 29.69, "radius": 6050.66},
      {"lat": 30.05, "radius": 6050.64}, {"lat": 30.41, "radius": 6050.68}, {"lat": 30.72, "radius": 6050.76},
      {"lat": 31.01, "radius": 6050.83}, {"lat": 31.25, "radius": 6050.90}, {"lat": 31.44, "radius": 6051.01},
      {"lat": 31.61, "radius": 6051.11}, {"lat": 31.73, "radius": 6051.20}, {"lat": 31.85, "radius": 6051.30},
      {"lat": 32.09, "radius": 6051.40}, {"lat": 32.45, "radius": 6051.40}, {"lat": 32.81, "radius": 6051.37},
      {"lat": 33.17, "radius": 6051.34}, {"lat": 33.53, "radius": 6051.32}, {"lat": 33.89, "radius": 6051.32},
      {"lat": 34.25, "radius": 6051.47}, {"lat": 34.61, "radius": 6051.46}, {"lat": 34.97, "radius": 6051.42},
      {"lat": 35.32, "radius": 6051.37}, {"lat": 35.68, "radius": 6051.34}, {"lat": 36.04, "radius": 6051.32},
      {"lat": 36.40, "radius": 6051.34}, {"lat": 36.64, "radius": 6051.42}, {"lat": 36.76, "radius": 6051.60},
      {"lat": 37.00, "radius": 6051.65}, {"lat": 37.24, "radius": 6051.66}, {"lat": 37.48, "radius": 6051.60},
      {"lat": 37.67, "radius": 6051.44}, {"lat": 37.72, "radius": 6051.99}, {"lat": 37.96, "radius": 6052.04},
      {"lat": 38.20, "radius": 6052.08}, {"lat": 38.44, "radius": 6051.99}, {"lat": 38.68, "radius": 6051.96},
      {"lat": 38.97, "radius": 6052.36}, {"lat": 39.04, "radius": 6052.55}, {"lat": 39.28, "radius": 6052.60},
      {"lat": 39.40, "radius": 6052.79}, {"lat": 39.64, "radius": 6052.62}, {"lat": 39.93, "radius": 6052.58},
      {"lat": 40.12, "radius": 6052.48}, {"lat": 40.36, "radius": 6052.48}, {"lat": 40.65, "radius": 6052.58},
      {"lat": 40.96, "radius": 6052.44}, {"lat": 41.13, "radius": 6051.82}, {"lat": 41.27, "radius": 6051.20},
      {"lat": 41.32, "radius": 6051.09}, {"lat": 41.44, "radius": 6050.83}, {"lat": 41.68, "radius": 6050.82},
      {"lat": 41.92, "radius": 6050.75}, {"lat": 42.16, "radius": 6050.71}, {"lat": 42.39, "radius": 6050.75},
      {"lat": 42.63, "radius": 6050.71}, {"lat": 42.87, "radius": 6050.71}, {"lat": 43.11, "radius": 6050.68},
      {"lat": 43.35, "radius": 6050.54}, {"lat": 43.47, "radius": 6050.24}, {"lat": 43.59, "radius": 6050.07},
      {"lat": 43.83, "radius": 6050.04}, {"lat": 44.07, "radius": 6050.12}, {"lat": 44.31, "radius": 6050.23},
      {"lat": 44.55, "radius": 6050.44}, {"lat": 44.91, "radius": 6050.45}, {"lat": 45.27, "radius": 6050.42},
      {"lat": 45.63, "radius": 6050.37}, {"lat": 45.99, "radius": 6050.33}, {"lat": 46.06, "radius": 6050.59},
      {"lat": 46.11, "radius": 6050.69}, {"lat": 46.23, "radius": 6051.27}, {"lat": 46.59, "radius": 6051.27},
      {"lat": 46.94, "radius": 6051.32}, {"lat": 47.18, "radius": 6051.87}, {"lat": 47.42, "radius": 6051.94},
      {"lat": 47.66, "radius": 6051.89}, {"lat": 47.78, "radius": 6051.61}, {"lat": 48.14, "radius": 6051.58},
      {"lat": 48.50, "radius": 6051.54}, {"lat": 48.70, "radius": 6051.44}, {"lat": 48.79, "radius": 6051.27},
      {"lat": 48.86, "radius": 6051.16}, {"lat": 48.98, "radius": 6051.01}, {"lat": 49.34, "radius": 6050.89},
      {"lat": 49.58, "radius": 6050.82}, {"lat": 49.82, "radius": 6050.63}, {"lat": 50.18, "radius": 6050.61},
      {"lat": 50.54, "radius": 6050.66}, {"lat": 50.66, "radius": 6050.76}, {"lat": 50.78, "radius": 6050.90},
      {"lat": 50.95, "radius": 6051.01}, {"lat": 51.38, "radius": 6051.02}, {"lat": 51.74, "radius": 6051.01},
      {"lat": 52.10, "radius": 6051.06}, {"lat": 52.46, "radius": 6051.11}, {"lat": 52.82, "radius": 6051.25},
      {"lat": 53.18, "radius": 6051.28}, {"lat": 53.54, "radius": 6051.34}, {"lat": 53.83, "radius": 6051.37},
      {"lat": 54.14, "radius": 6051.28}, {"lat": 54.50, "radius": 6051.21}, {"lat": 54.86, "radius": 6051.18},
      {"lat": 55.22, "radius": 6051.20}, {"lat": 55.58, "radius": 6051.23}, {"lat": 55.94, "radius": 6051.27},
      {"lat": 56.30, "radius": 6051.32}, {"lat": 56.61, "radius": 6051.39}, {"lat": 56.66, "radius": 6051.66},
      {"lat": 56.90, "radius": 6051.94}, {"lat": 57.26, "radius": 6051.98}, {"lat": 57.62, "radius": 6051.98},
      {"lat": 57.98, "radius": 6052.03}, {"lat": 58.14, "radius": 6052.10}, {"lat": 58.34, "radius": 6052.24},
      {"lat": 58.46, "radius": 6052.24}, {"lat": 58.77, "radius": 6051.84}, {"lat": 58.94, "radius": 6051.72},
      {"lat": 59.10, "radius": 6051.61}, {"lat": 59.29, "radius": 6051.39}, {"lat": 59.53, "radius": 6051.32},
      {"lat": 59.77, "radius": 6051.35}, {"lat": 60.01, "radius": 6051.46}, {"lat": 60.25, "radius": 6051.56},
      {"lat": 60.61, "radius": 6051.58}, {"lat": 60.93, "radius": 6051.65}, {"lat": 61.09, "radius": 6051.77},
      {"lat": 61.33, "radius": 6051.87}, {"lat": 61.65, "radius": 6051.92}, {"lat": 61.98, "radius": 6051.89},
      {"lat": 62.29, "radius": 6051.91}, {"lat": 62.65, "radius": 6051.98}, {"lat": 63.01, "radius": 6052.01},
      {"lat": 63.37, "radius": 6051.99}, {"lat": 63.73, "radius": 6052.03}, {"lat": 64.09, "radius": 6052.10},
      {"lat": 64.28, "radius": 6052.24}, {"lat": 64.52, "radius": 6052.32}, {"lat": 64.76, "radius": 6052.48},
      {"lat": 64.93, "radius": 6052.53}, {"lat": 65.29, "radius": 6052.51}, {"lat": 65.65, "radius": 6052.46},
      {"lat": 66.01, "radius": 6052.39}, {"lat": 66.25, "radius": 6052.32}, {"lat": 66.44, "radius": 6052.29},
      {"lat": 66.49, "radius": 6051.96}, {"lat": 66.61, "radius": 6051.60}, {"lat": 66.97, "radius": 6051.54},
      {"lat": 67.33, "radius": 6051.53}, {"lat": 67.45, "radius": 6053.33}, {"lat": 67.52, "radius": 6053.85},
      {"lat": 67.69, "radius": 6054.00}, {"lat": 68.05, "radius": 6054.00}, {"lat": 68.29, "radius": 6053.83},
      {"lat": 68.41, "radius": 6053.74}, {"lat": 68.53, "radius": 6053.62}, {"lat": 68.77, "radius": 6053.52},
      {"lat": 69.08, "radius": 6053.52}, {"lat": 69.32, "radius": 6053.14}, {"lat": 69.61, "radius": 6053.12},
      {"lat": 69.97, "radius": 6053.14}, {"lat": 70.09, "radius": 6053.27}, {"lat": 70.33, "radius": 6053.36},
      {"lat": 70.68, "radius": 6053.40}, {"lat": 70.93, "radius": 6053.19}, {"lat": 71.28, "radius": 6053.10},
      {"lat": 71.57, "radius": 6052.96}, {"lat": 71.76, "radius": 6052.86}, {"lat": 72.12, "radius": 6052.77},
      {"lat": 72.36, "radius": 6052.58}, {"lat": 72.48, "radius": 6052.34}, {"lat": 72.60, "radius": 6052.14},
      {"lat": 72.72, "radius": 6051.60}, {"lat": 73.08, "radius": 6051.56}, {"lat": 73.44, "radius": 6051.60},
      {"lat": 73.80, "radius": 6051.68}, {"lat": 74.16, "radius": 6051.60}, {"lat": 74.52, "radius": 6051.51},
      {"lat": 74.88, "radius": 6051.42}, {"lat": 75.24, "radius": 6051.40}, {"lat": 75.60, "radius": 6051.40},
      {"lat": 75.96, "radius": 6051.39}, {"lat": 76.32, "radius": 6051.37}, {"lat": 76.68, "radius": 6051.30},
      {"lat": 76.92, "radius": 6051.20}, {"lat": 77.16, "radius": 6051.13}, {"lat": 77.52, "radius": 6051.08},
      {"lat": 77.88, "radius": 6051.04}, {"lat": 78.12, "radius": 6050.85}
    ]
  },
  "layer": [
    {
      "data": {"name": "raw"},
      "mark": {"type": "circle", "size": 85, "color": "black", "opacity": 1},
      "encoding": {
        "x": {
          "field": "lat",
          "type": "quantitative",
          "scale": {"domain": [-90, 90], "nice": false, "zero": false},
          "axis": {
            "orient": "bottom",
            "title": "Latitude, deg",
            "titlePadding": -47,
            "values": [-90, -85, -80, -75, -70, -65, -60, -55, -50, -45, -40, -35, -30, -25, -20, -15, -10, -5, 0, 5, 10, 15, 20, 25, 30, 35, 40, 45, 50, 55, 60, 65, 70, 75, 80, 85, 90],
            "tickSize": {"condition": {"test": "datum.value % 30 === 0", "value": -113}, "value": -57},
            "labelExpr": "datum.value % 30 === 0 ? '' + datum.value : ''",
            "labelPadding": 133
          }
        },
        "y": {
          "field": "radius",
          "type": "quantitative",
          "scale": {"domain": [6045, 6065], "nice": false, "zero": false},
          "axis": {
            "orient": "left",
            "title": "Radius, km",
            "titlePadding": 65,
            "values": [6045, 6046, 6047, 6048, 6049, 6050, 6051, 6052, 6053, 6054, 6055, 6056, 6057, 6058, 6059, 6060, 6061, 6062, 6063, 6064, 6065],
            "tickSize": {"condition": {"test": "datum.value % 5 === 0", "value": -113}, "value": -57},
            "labelExpr": "datum.value % 5 === 0 ? '' + datum.value : ''",
            "labelPadding": 151
          }
        }
      }
    },
    {
      "data": {"name": "smooth"},
      "mark": {"type": "circle", "size": 130, "color": "#ff0000", "opacity": 1},
      "encoding": {
        "x": {
          "field": "lat",
          "type": "quantitative",
          "axis": {
            "orient": "top",
            "title": null,
            "labels": false,
            "values": [-90, -85, -80, -75, -70, -65, -60, -55, -50, -45, -40, -35, -30, -25, -20, -15, -10, -5, 0, 5, 10, 15, 20, 25, 30, 35, 40, 45, 50, 55, 60, 65, 70, 75, 80, 85, 90],
            "tickSize": {"condition": {"test": "datum.value % 30 === 0", "value": -113}, "value": -57}
          }
        },
        "y": {
          "field": "radius",
          "type": "quantitative",
          "axis": {
            "orient": "right",
            "title": null,
            "labels": false,
            "values": [6045, 6046, 6047, 6048, 6049, 6050, 6051, 6052, 6053, 6054, 6055, 6056, 6057, 6058, 6059, 6060, 6061, 6062, 6063, 6064, 6065],
            "tickSize": {"condition": {"test": "datum.value % 5 === 0", "value": -113}, "value": -57}
          }
        }
      }
    }
  ],
  "resolve": {"axis": {"x": "independent", "y": "independent"}}
}
